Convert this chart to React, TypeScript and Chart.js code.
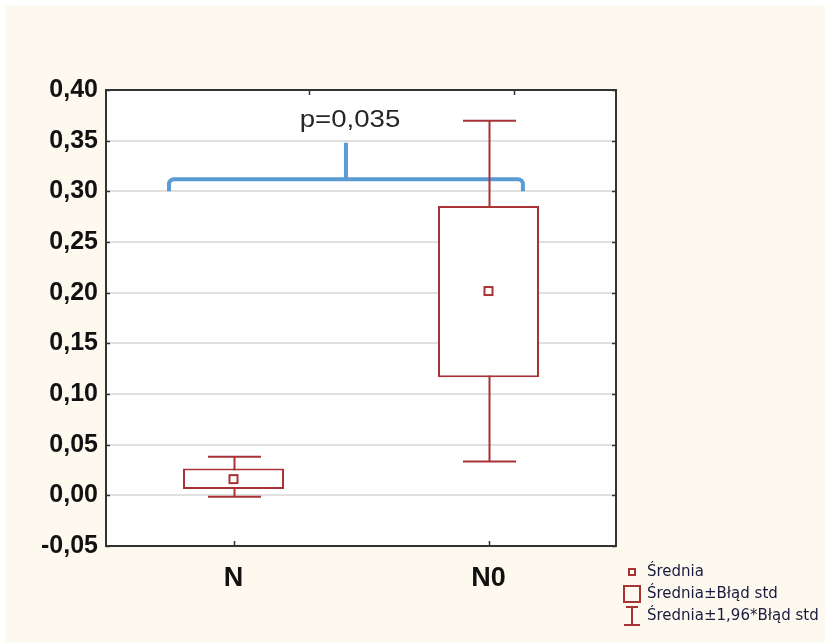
import React, { useEffect, useRef } from "react";
import { Chart, registerables } from "chart.js";

Chart.register(...registerables);

// ---- data ----
const categories = ["N", "N0"];
const means = [0.016, 0.2016];
const seLow = [0.0062, 0.1165];
const seHigh = [0.0266, 0.2855];
const ciLow = [-0.0015, 0.0335];
const ciHigh = [0.0381, 0.3697];

const yMin = -0.05;
const yMax = 0.4;
const yStep = 0.05;

// significance bracket (x in category units, y in value units)
const pText = "p=0,035";
const bracketX = [-0.253, 0.441, 1.135]; // left, stem, right
const bracketY = [0.3, 0.312, 0.348]; // ends, bar, stem top
const pTextPos = [0.457, 0.3635];
const topTickX = [0.296, 1.1];

const legendLabels = ["Średnia", "Średnia±Błąd std", "Średnia±1,96*Błąd std"];

const RED = "#a83236";
const BLUE = "#5b9bd5";
const CREAM = "#fdf9ee";

const fmt = (v: number) => {
  if (Math.abs(v) < 1e-9) v = 0;
  return v.toFixed(2).replace(".", ",");
};

const boxPlugin = {
  id: "boxPlugin",
  beforeDraw(chart: any) {
    const { ctx, chartArea: a, width, height } = chart;
    ctx.save();
    ctx.fillStyle = "#ffffff";
    ctx.fillRect(0, 0, width, height);
    ctx.fillStyle = CREAM;
    ctx.fillRect(5, 6, width - 5, height - 6);
    ctx.fillStyle = "#ffffff";
    ctx.fillRect(a.left, a.top, a.right - a.left, a.bottom - a.top);
    ctx.restore();
  },
  beforeDatasetsDraw(chart: any) {
    const { ctx } = chart;
    const x = chart.scales.x;
    const y = chart.scales.y;
    ctx.save();
    // bracket
    const l = x.getPixelForValue(bracketX[0]);
    const s = x.getPixelForValue(bracketX[1]);
    const r = x.getPixelForValue(bracketX[2]);
    const yEnd = y.getPixelForValue(bracketY[0]);
    const yBar = y.getPixelForValue(bracketY[1]);
    const yTop = y.getPixelForValue(bracketY[2]);
    const rad = 5;
    ctx.strokeStyle = BLUE;
    ctx.lineWidth = 4;
    ctx.beginPath();
    ctx.moveTo(l, yEnd);
    ctx.lineTo(l, yBar + rad);
    ctx.arcTo(l, yBar, l + rad, yBar, rad);
    ctx.lineTo(r - rad, yBar);
    ctx.arcTo(r, yBar, r, yBar + rad, rad);
    ctx.lineTo(r, yEnd);
    ctx.moveTo(s, yBar);
    ctx.lineTo(s, yTop);
    ctx.stroke();
    // p text
    ctx.fillStyle = "#262626";
    ctx.font = '23px "Liberation Sans", Arial, sans-serif';
    ctx.textAlign = "center";
    ctx.textBaseline = "alphabetic";
    ctx.translate(x.getPixelForValue(pTextPos[0]), y.getPixelForValue(pTextPos[1]));
    ctx.scale(1.2, 1);
    ctx.fillText(pText, 0, 0);
    ctx.restore();

    // whiskers
    ctx.save();
    const cat = x.getPixelForValue(1) - x.getPixelForValue(0);
    const capHalf = cat * 0.104;
    ctx.strokeStyle = RED;
    ctx.lineWidth = 2;
    categories.forEach((_, i) => {
      const cx = Math.round(x.getPixelForValue(i)) + 0.5;
      const hi = y.getPixelForValue(ciHigh[i]);
      const lo = y.getPixelForValue(ciLow[i]);
      ctx.beginPath();
      ctx.moveTo(cx, hi);
      ctx.lineTo(cx, lo);
      ctx.moveTo(cx - capHalf, hi);
      ctx.lineTo(cx + capHalf, hi);
      ctx.moveTo(cx - capHalf, lo);
      ctx.lineTo(cx + capHalf, lo);
      ctx.stroke();
    });
    ctx.restore();
  },
  afterDatasetsDraw(chart: any) {
    const { ctx } = chart;
    const x = chart.scales.x;
    const y = chart.scales.y;
    ctx.save();
    ctx.strokeStyle = RED;
    ctx.lineWidth = 2;
    ctx.fillStyle = "#fff";
    categories.forEach((_, i) => {
      const cx = x.getPixelForValue(i);
      const cy = y.getPixelForValue(means[i]);
      ctx.fillRect(cx - 4, cy - 4, 8, 8);
      ctx.strokeRect(cx - 4, cy - 4, 8, 8);
    });
    ctx.restore();
  },
  afterDraw(chart: any) {
    const { ctx, chartArea: a } = chart;
    const x = chart.scales.x;
    const y = chart.scales.y;
    ctx.save();
    ctx.strokeStyle = "#333333";
    ctx.lineWidth = 2;
    ctx.strokeRect(a.left, a.top, a.right - a.left, a.bottom - a.top);
    // inner ticks
    ctx.beginPath();
    y.ticks.forEach((t: any) => {
      const py = Math.round(y.getPixelForValue(t.value)) + 0.5;
      ctx.moveTo(a.left, py);
      ctx.lineTo(a.left + 4, py);
      ctx.moveTo(a.right, py);
      ctx.lineTo(a.right - 4, py);
    });
    categories.forEach((_, i) => {
      const px = Math.round(x.getPixelForValue(i)) + 0.5;
      ctx.moveTo(px, a.bottom);
      ctx.lineTo(px, a.bottom - 5);
    });
    topTickX.forEach((v) => {
      const px = Math.round(x.getPixelForValue(v)) + 0.5;
      ctx.moveTo(px, a.top);
      ctx.lineTo(px, a.top + 5);
    });
    ctx.lineWidth = 1.5;
    ctx.stroke();

    // legend
    const lx = a.right + 8;
    const rows = [a.bottom + 26, a.bottom + 48, a.bottom + 70];
    ctx.strokeStyle = RED;
    ctx.lineWidth = 2;
    // mean marker
    ctx.strokeRect(lx + 5, rows[0] - 3, 6, 6);
    // box
    ctx.strokeRect(lx, rows[1] - 8, 16, 16);
    // whisker
    ctx.beginPath();
    ctx.moveTo(lx + 2, rows[2] - 9);
    ctx.lineTo(lx + 14, rows[2] - 9);
    ctx.moveTo(lx + 8, rows[2] - 9);
    ctx.lineTo(lx + 8, rows[2] + 9);
    ctx.moveTo(lx, rows[2] + 9);
    ctx.lineTo(lx + 16, rows[2] + 9);
    ctx.stroke();
    ctx.fillStyle = "#1a1a40";
    ctx.font = '15px "DejaVu Sans", sans-serif';
    ctx.textAlign = "left";
    ctx.textBaseline = "middle";
    legendLabels.forEach((t, i) => {
      ctx.fillText(t, lx + 23, rows[i]);
    });
    ctx.restore();
  },
};

export default function App() {
  const ref = useRef<HTMLCanvasElement>(null);
  useEffect(() => {
    document.body.style.margin = "0";
    const boxes = categories.map((_, i) => [seLow[i], seHigh[i]]);
    const chart = new Chart(ref.current as HTMLCanvasElement, {
      type: "bar",
      data: {
        labels: categories,
        datasets: [
          {
            data: boxes as any,
            backgroundColor: "#ffffff",
            borderColor: RED,
            borderWidth: 2,
            borderSkipped: false,
            barPercentage: 0.396,
            categoryPercentage: 1,
          },
        ],
      },
      options: {
        animation: false,
        responsive: false,
        events: [],
        layout: { padding: { top: 90, right: 209, left: 0, bottom: 0 } },
        plugins: { legend: { display: false }, tooltip: { enabled: false } },
        scales: {
          x: {
            offset: true,
            grid: { display: false, drawTicks: false },
            border: { display: false },
            ticks: {
              padding: 16,
              color: "#111111",
              font: { family: '"Liberation Sans", Arial, sans-serif', size: 27, weight: "bold" },
            },
            afterFit: (s: any) => {
              s.height = 96;
            },
          },
          y: {
            min: yMin,
            max: yMax,
            grid: { color: "#e0e0e0", lineWidth: 2, drawTicks: false },
            border: { display: false },
            ticks: {
              stepSize: yStep,
              padding: 8,
              color: "#111111",
              font: { family: '"Liberation Sans", Arial, sans-serif', size: 25, weight: "bold" },
              callback: (v: any) => fmt(Number(v)),
            },
            afterFit: (s: any) => {
              s.width = 106;
            },
          },
        },
      },
      plugins: [boxPlugin],
    });
    return () => chart.destroy();
  }, []);
  return (
    <div style={{ width: 825, height: 642 }}>
      <canvas ref={ref} width={825} height={642} style={{ display: "block" }} />
    </div>
  );
}
